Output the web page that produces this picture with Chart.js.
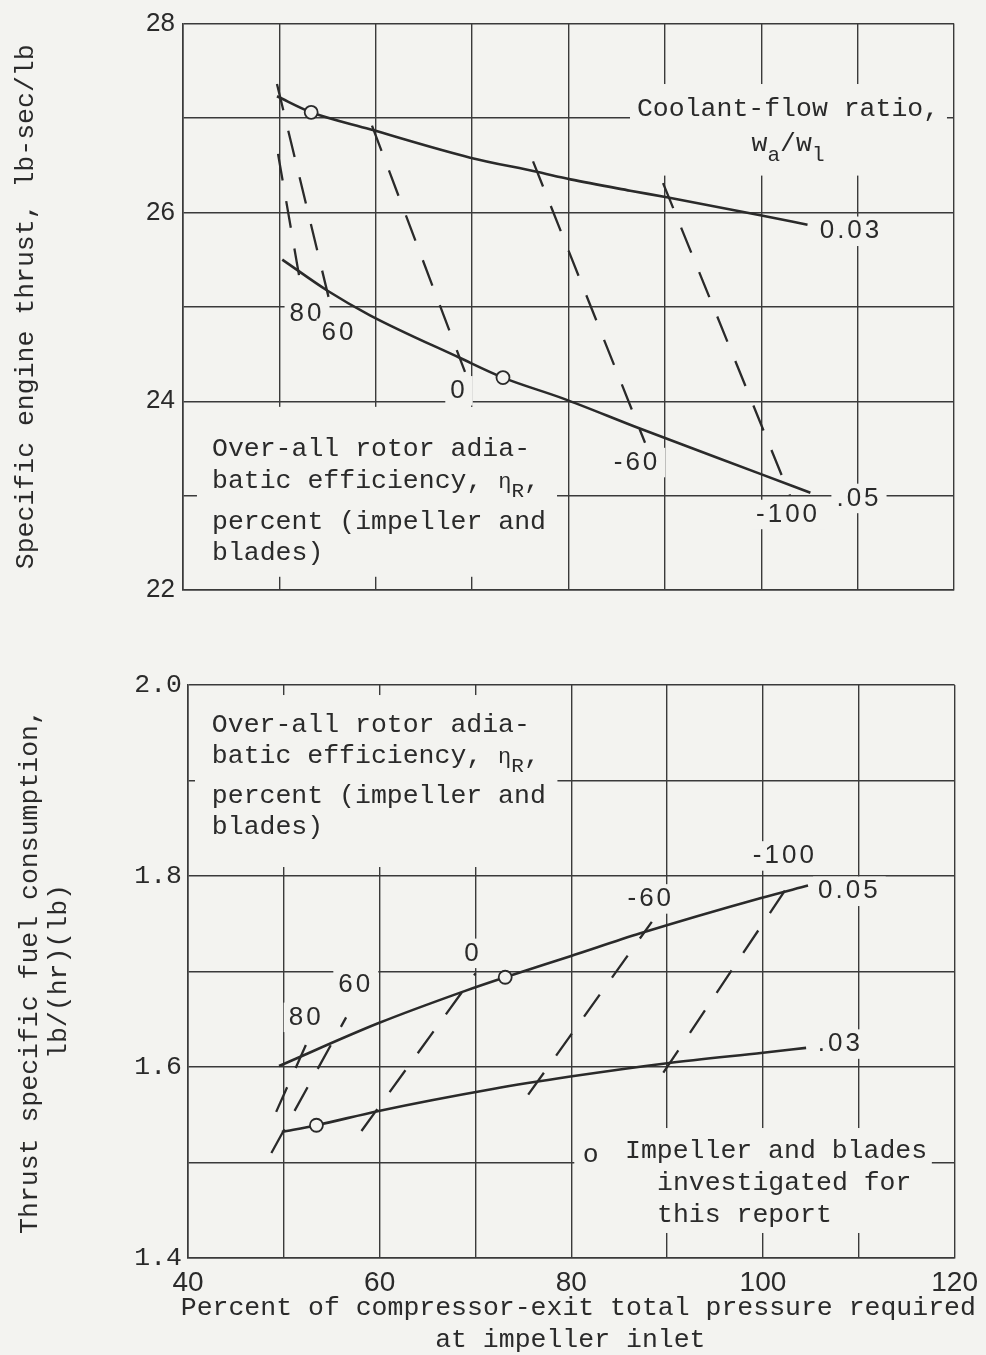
<!DOCTYPE html>
<html>
<head>
<meta charset="utf-8">
<script src="https://cdn.jsdelivr.net/npm/chart.js@4.4.0/dist/chart.umd.min.js"></script>
<style>
  html, body { margin: 0; padding: 0; background: #f3f3f0; }
  body { width: 986px; height: 1355px; position: relative; overflow: hidden; }
  .panel { position: absolute; left: 0; width: 986px; }
</style>
</head>
<body>
<div class="panel" style="top:0;height:640px"><canvas id="thrustChart"></canvas></div>
<div class="panel" style="top:640px;height:715px"><canvas id="tsfcChart"></canvas></div>
<script>
// Abscisse : pourcentage de la pression totale en sortie de compresseur
const xTickLabels = [40, 60, 80, 100, 120];

// Poussée spécifique, rapport de débit de refroidissement 0.03 et 0.05
const thrust03X = [49.75, 53.3, 59.4, 69.8, 76.7, 80.2, 86.4, 90.2, 99.9, 104.8];
const thrust03Y = [27.23, 27.06, 26.88, 26.58, 26.43, 26.35, 26.23, 26.16, 25.97, 25.87];
const thrust05X = [50.3, 55.0, 59.4, 68.7, 73.2, 79.4, 87.4, 99.9, 105.1];
const thrust05Y = [25.50, 25.17, 24.91, 24.46, 24.25, 24.03, 23.71, 23.23, 23.03];
const thrustTestX = [53.3, 73.2];
const thrustTestY = [27.06, 24.25];
const thrustTicks = [22, 24, 26, 28];

// Lignes de rendement du rotor (80, 60, 0, -60, -100)
const etaLabels = ['80', '60', '0', '-60', '-100'];
const thrustEtaX = [[49.86, 52.35], [49.75, 55.56], [59.61, 69.26], [76.32, 87.94], [89.81, 102.98]];
const thrustEtaY = [[26.62, 25.15], [27.36, 24.91], [26.92, 24.31], [26.54, 23.56], [26.31, 23.00]];

// Consommation spécifique
const tsfc05X = [49.5, 59.9, 69.0, 73.1, 79.9, 87.2, 99.8, 104.7];
const tsfc05Y = [1.601, 1.646, 1.680, 1.694, 1.716, 1.740, 1.777, 1.790];
const tsfc03X = [49.8, 53.4, 59.9, 71.8, 79.9, 90.0, 100.0, 104.5];
const tsfc03Y = [1.532, 1.539, 1.554, 1.577, 1.590, 1.604, 1.615, 1.620];
const tsfcTestX = [53.4, 73.1];
const tsfcTestY = [1.539, 1.694];
const tsfcEtaX = [[49.2, 52.3], [48.7, 56.5], [58.1, 70.0], [75.5, 88.4], [89.6, 102.7]];
const tsfcEtaY = [[1.553, 1.623], [1.510, 1.652], [1.533, 1.698], [1.571, 1.752], [1.594, 1.791]];
const tsfcTicks = [1.4, 1.6, 1.8, 2.0];

const PAPER = '#f3f3f0';
const INK = '#2a2a2a';
const GRID = '#3a3a3a';
const MONO = '"Liberation Mono", "DejaVu Sans Mono", monospace';
const SANS = '"Liberation Sans", Arial, sans-serif';
const TXT = 26.5;

function pts(xs, ys) {
    return xs.map((x, i) => ({x: x, y: ys[i]}));
}

function partFont(p, size, family) {
    const s = p.sub ? Math.round(size * 0.78) : (p.size || size);
    return s + 'px ' + family;
}

function richWidth(ctx, parts, size, family) {
    if (typeof parts === 'string') parts = [{t: parts}];
    let w = 0;
    parts.forEach(p => {
        ctx.font = partFont(p, size, family);
        w += ctx.measureText(p.t).width;
    });
    return w;
}

function drawRich(ctx, parts, x, y, size, family, align) {
    if (typeof parts === 'string') parts = [{t: parts}];
    const w = richWidth(ctx, parts, size, family);
    let cx = align === 'center' ? x - w / 2 : x;
    ctx.textAlign = 'left';
    parts.forEach(p => {
        ctx.font = partFont(p, size, family);
        ctx.fillText(p.t, cx, y + (p.sub ? size * 0.36 : 0));
        cx += ctx.measureText(p.t).width;
    });
}

// Textes posés sur le graphique, avec un fond qui coupe la grille
const notesPlugin = {
    id: 'notes',
    beforeDatasetsDraw(chart, args, opts) {
        const ctx = chart.ctx;
        const sx = chart.scales.x, sy = chart.scales.y;
        ctx.save();
        (opts.items || []).forEach(n => {
            const px = sx.getPixelForValue(n.x);
            const py = sy.getPixelForValue(n.y);
            ctx.letterSpacing = (n.spacing || 0) + 'px';
            ctx.fillStyle = PAPER;
            if (n.box) {
                const l = sx.getPixelForValue(n.box[0]), r = sx.getPixelForValue(n.box[2]);
                const t = sy.getPixelForValue(n.box[1]), b = sy.getPixelForValue(n.box[3]);
                ctx.fillRect(l, t, r - l, b - t);
            } else if (n.pad !== undefined) {
                const w = richWidth(ctx, n.lines[0], n.size, n.family);
                const h = n.size * 0.75;
                const l = n.align === 'center' ? px - w / 2 : px;
                ctx.fillRect(l - n.pad, py - h / 2 - n.pad, w + 2 * n.pad, h + 2 * n.pad);
            }
            ctx.fillStyle = INK;
            ctx.textBaseline = n.baseline || 'middle';
            n.lines.forEach((line, i) => {
                const dx = n.dx ? n.dx[i] : 0;
                const dy = n.dy ? n.dy[i] : 0;
                drawRich(ctx, line, px + dx, py + dy, n.size, n.family, n.align);
            });
        });
        ctx.restore();
    }
};

function label(text, x, y) {
    return {x: x, y: y, lines: [text], family: SANS, size: 26, align: 'center', spacing: 3, pad: 5};
}

const etaText = [
    'Over-all rotor adia-',
    [{t: 'batic efficiency, '}, {t: 'η', size: 22}, {t: 'R', sub: true}, {t: ','}],
    'percent (impeller and',
    'blades)'
];

const thrustNotes = [
    {x: 43.01, y: 23.42, lines: etaText, family: MONO, size: TXT, align: 'left', baseline: 'alphabetic',
        dy: [0, 32, 73, 104], box: [41.45, 23.94, 78.81, 22.14]},
    {x: 102.78, y: 27.02, family: MONO, size: TXT, align: 'center', baseline: 'alphabetic',
        lines: ['Coolant-flow ratio,', [{t: 'w'}, {t: 'a', sub: true}, {t: '/'}, {t: 'w'}, {t: 'l', sub: true}]],
        dy: [0, 35], box: [86.38, 27.36, 119.27, 26.39]},
    label('0.03', 109.31, 25.80),
    label('.05', 110.14, 22.97),
    label(etaLabels[0], 52.87, 24.93),
    label(etaLabels[1], 56.19, 24.72),
    label(etaLabels[2], 68.64, 24.11),
    label(etaLabels[3], 87.11, 23.35),
    label(etaLabels[4], 102.78, 22.80)
];

const tsfcNotes = [
    {x: 42.49, y: 1.951, lines: etaText, family: MONO, size: TXT, align: 'left', baseline: 'alphabetic',
        dy: [0, 31, 71, 102], box: [40.73, 1.9895, 78.55, 1.8094]},
    {x: 85.60, y: 1.5047, family: MONO, size: TXT, align: 'left', baseline: 'alphabetic',
        lines: ['Impeller and blades', 'investigated for', 'this report'],
        dx: [0, 32, 32], dy: [0, 32, 64], box: [80.31, 1.5361, 117.62, 1.4262]},
    {x: 81.2, y: 1.5005, family: MONO, size: TXT, align: 'left', baseline: 'alphabetic', lines: ['o']},
    label('0.05', 109.02, 1.784),
    label('.03', 108.08, 1.624),
    label(etaLabels[0], 52.33, 1.652),
    label(etaLabels[1], 57.51, 1.686),
    label(etaLabels[2], 69.74, 1.719),
    label(etaLabels[3], 88.29, 1.776),
    label(etaLabels[4], 102.28, 1.821),
    {x: 80.73, y: 1.3476, family: MONO, size: TXT, align: 'center',
        lines: ['Percent of compressor-exit total pressure required', 'at impeller inlet'], dx: [0, -8], dy: [0, 32]}
];

function buildDatasets(curves, testX, testY, etaX, etaY) {
    const sets = [{
        data: pts(testX, testY),
        showLine: false,
        pointRadius: 6.5,
        pointBackgroundColor: PAPER,
        pointBorderColor: INK,
        pointBorderWidth: 1.8
    }];
    curves.forEach(c => {
        sets.push({
            data: pts(c[0], c[1]),
            showLine: true,
            borderColor: INK,
            borderWidth: 2.6,
            pointRadius: 0,
            cubicInterpolationMode: 'monotone'
        });
    });
    etaX.forEach((xs, i) => {
        sets.push({
            data: pts(xs, etaY[i]),
            showLine: true,
            borderColor: INK,
            borderWidth: 2.3,
            borderDash: [27, 21],
            pointRadius: 0
        });
    });
    return sets;
}

function makeChart(id, cfg) {
    return new Chart(document.getElementById(id), {
        type: 'scatter',
        data: {datasets: cfg.datasets},
        plugins: [notesPlugin],
        options: {
            responsive: true,
            maintainAspectRatio: false,
            animation: false,
            events: [],
            layout: {padding: cfg.padding},
            plugins: {
                legend: {display: false},
                tooltip: {enabled: false},
                notes: {items: cfg.notes}
            },
            scales: {
                x: {
                    type: 'linear',
                    min: 40,
                    max: 120,
                    ticks: {
                        stepSize: 10,
                        display: cfg.xLabels,
                        autoSkip: false,
                        maxRotation: 0,
                        padding: 8,
                        color: INK,
                        font: {family: SANS, size: 28},
                        callback: v => xTickLabels.includes(v) ? String(v) : ''
                    },
                    grid: {color: GRID, lineWidth: 1.4, drawTicks: false},
                    border: {color: GRID, width: 1.6},
                    afterFit: s => { s.height = cfg.xHeight; }
                },
                y: {
                    type: 'linear',
                    min: cfg.yMin,
                    max: cfg.yMax,
                    ticks: {
                        stepSize: cfg.yStep,
                        autoSkip: false,
                        padding: cfg.yPad,
                        color: INK,
                        font: cfg.yFont,
                        callback: cfg.yFormat
                    },
                    grid: {color: GRID, lineWidth: 1.4, drawTicks: false},
                    border: {color: GRID, width: 1.6},
                    title: {
                        display: true,
                        text: cfg.yTitle,
                        color: INK,
                        font: {family: MONO, size: TXT, lineHeight: 1.1},
                        padding: {top: cfg.yTitlePad, bottom: 0}
                    },
                    afterFit: s => { s.width = cfg.yWidth; }
                }
            }
        }
    });
}

document.addEventListener('DOMContentLoaded', function() {
    // Poussée spécifique du moteur
    window.thrustChart = makeChart('thrustChart', {
        datasets: buildDatasets([[thrust03X, thrust03Y], [thrust05X, thrust05Y]],
            thrustTestX, thrustTestY, thrustEtaX, thrustEtaY),
        notes: thrustNotes,
        padding: {top: 19, right: 32, left: 0, bottom: 0},
        xLabels: false,
        xHeight: 50,
        yMin: 22, yMax: 28, yStep: 1, yPad: 8, yWidth: 183, yTitlePad: 11,
        yFont: {family: SANS, size: 26},
        yFormat: v => thrustTicks.includes(v) ? String(v) : '',
        yTitle: 'Specific engine thrust, lb-sec/lb'
    });

    // Consommation spécifique de carburant
    window.tsfcChart = makeChart('tsfcChart', {
        datasets: buildDatasets([[tsfc05X, tsfc05Y], [tsfc03X, tsfc03Y]],
            tsfcTestX, tsfcTestY, tsfcEtaX, tsfcEtaY),
        notes: tsfcNotes,
        padding: {top: 45, right: 26, left: 0, bottom: 0},
        xLabels: true,
        xHeight: 97,
        yMin: 1.4, yMax: 2.0, yStep: 0.1, yPad: 6, yWidth: 188, yTitlePad: 15,
        yFont: {family: MONO, size: TXT},
        yFormat: v => {
            const k = Math.round(v * 10);
            return tsfcTicks.some(t => Math.round(t * 10) === k) ? (k / 10).toFixed(1) : '';
        },
        yTitle: ['Thrust specific fuel consumption,', 'lb/(hr)(lb)']
    });
});
</script>
</body>
</html>
